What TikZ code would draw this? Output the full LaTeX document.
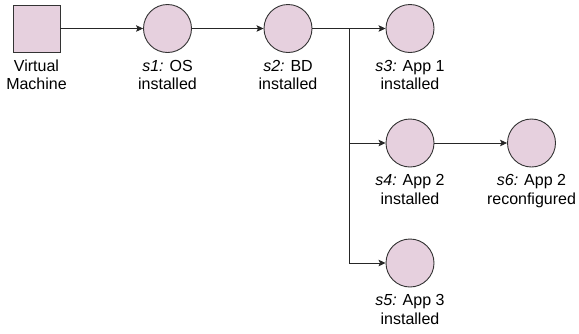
\documentclass[tikz,border=0pt]{standalone}
\usepackage{fontspec}
\setmainfont{Liberation Sans}
\usetikzlibrary{arrows.meta, positioning, calc}
\definecolor{stateFill}{HTML}{E6D0DE}
\definecolor{stateLine}{HTML}{333333}

\begin{document}
\begin{tikzpicture}[x=1pt, y=-1pt,
    state/.style={circle, draw=stateLine, fill=stateFill, line width=0.9pt,
      minimum size=48pt, inner sep=0pt},
    machine/.style={rectangle, draw=stateLine, fill=stateFill, line width=0.9pt,
      minimum size=47pt, inner sep=0pt},
    caption/.style={align=center, font=\fontsize{16}{18.5}\selectfont, inner sep=0pt},
    flow/.style={-{Stealth[length=7pt, width=6.5pt, inset=1.5pt]}, line width=0.8pt, draw=black!85}]
  \useasboundingbox (0,0) rectangle (579,333);
  % Machine and states
  \node[machine] (vm) at (36.5,28.5) {};
  \node[state] (s1) at (167.5,28.5) {};
  \node[state] (s2) at (288,28.5) {};
  \node[state] (s3) at (410,28.5) {};
  \node[state] (s4) at (410,143) {};
  \node[state] (s5) at (410,263) {};
  \node[state] (s6) at (531.5,143) {};
  % Captions under each shape
  \node[caption, below=7pt of vm] (vmtext) {Virtual\\Machine};
  \node[caption, below=7pt of s1] (s1text) {\textit{s1:} OS\\installed};
  \node[caption, below=7pt of s2] (s2text) {\textit{s2:} BD\\installed};
  \node[caption, below=7pt of s3] (s3text) {\textit{s3:} App 1\\installed};
  \node[caption, below=7pt of s4] (s4text) {\textit{s4:} App 2\\installed};
  \node[caption, below=7pt of s5] (s5text) {\textit{s5:} App 3\\installed};
  \node[caption, below=7pt of s6] (s6text) {\textit{s6:} App 2\\reconfigured};
  % Branch point after s2
  \coordinate (fork) at (349,28.5);
  % Transitions
  \draw[flow] (vm) -- (s1);
  \draw[flow] (s1) -- (s2);
  \draw[flow] (s2) -- (s3);
  \draw[flow] (s2.east) -- (fork) |- (s4);
  \draw[flow] (s2.east) -- (fork) |- (s5);
  \draw[flow] (s4) -- (s6);
\end{tikzpicture}
\end{document}
